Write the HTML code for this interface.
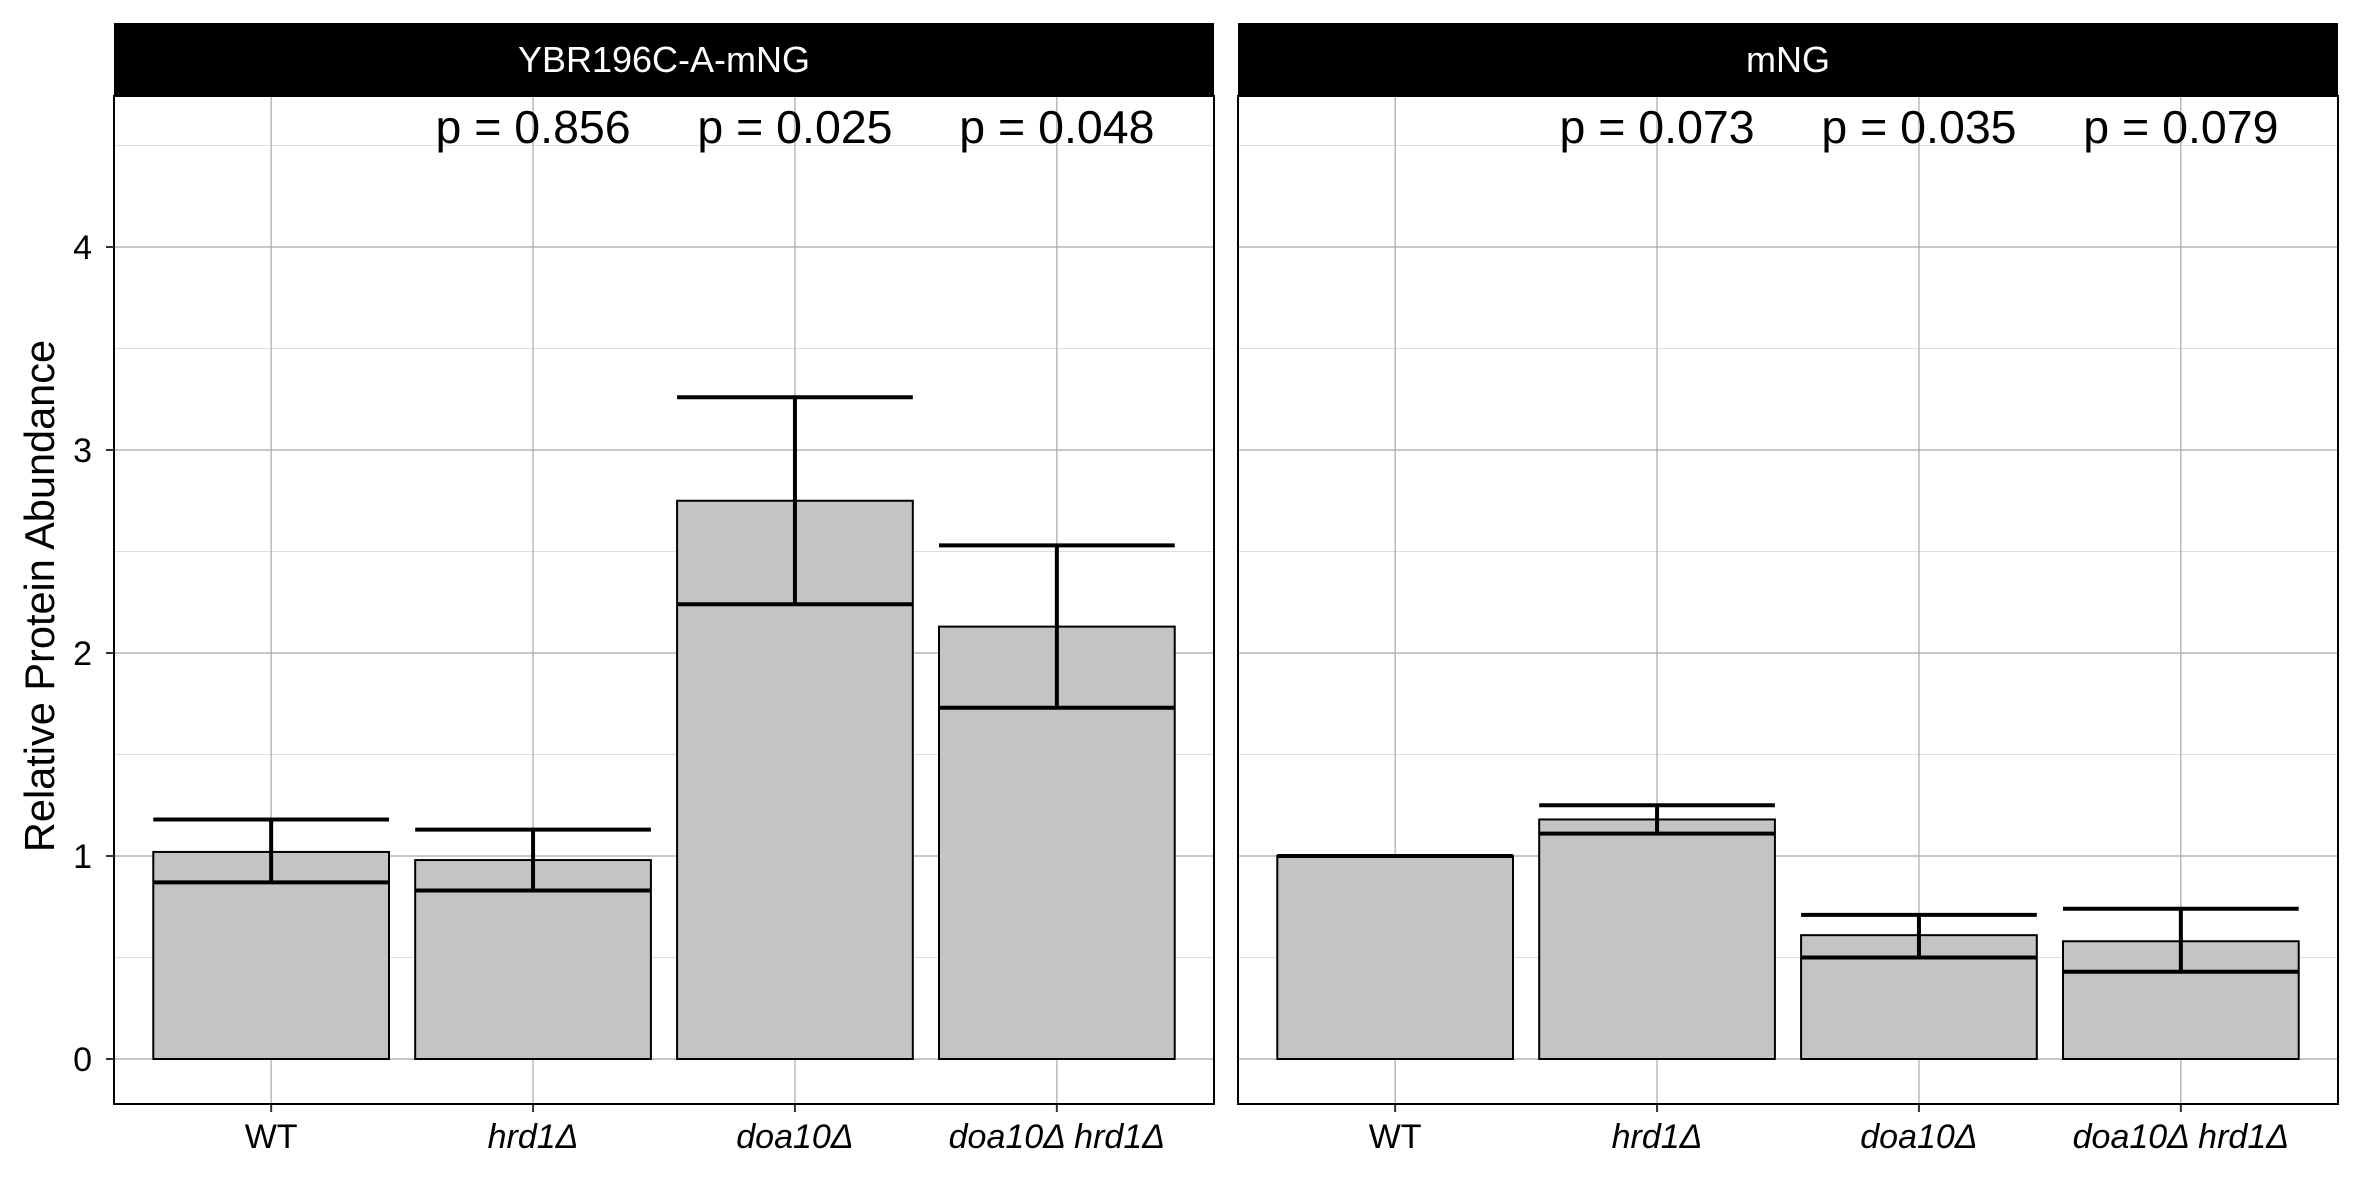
<!DOCTYPE html>
<html><head><meta charset="utf-8"><style>
body{margin:0;background:#fff}
svg{display:block;font-family:"Liberation Sans",sans-serif}
</style></head><body>
<svg id="chart" width="2362" height="1181" viewBox="0 0 2362 1181" xmlns="http://www.w3.org/2000/svg">
<text x="0" y="0" transform="translate(54,596) rotate(-90)" text-anchor="middle" font-size="41.5">Relative Protein Abundance</text>
</svg>
<script>
const categories=["WT","hrd1Δ","doa10Δ","doa10Δ hrd1Δ"];
const panels=["YBR196C-A-mNG","mNG"];
const meansA=[1.02,0.98,2.75,2.13];
const lowA=[0.87,0.83,2.24,1.73];
const highA=[1.18,1.13,3.26,2.53];
const meansB=[1.0,1.18,0.61,0.58];
const lowB=[1.0,1.11,0.50,0.43];
const highB=[1.0,1.25,0.71,0.74];
const pA=["","p = 0.856","p = 0.025","p = 0.048"];
const pB=["","p = 0.073","p = 0.035","p = 0.079"];
const yTicks=[0,1,2,3,4];
const NS="http://www.w3.org/2000/svg";
const svg=document.getElementById('chart');
function mk(t,a,p){const e=document.createElementNS(NS,t);for(const k in a)e.setAttribute(k,a[k]);(p||svg).appendChild(e);return e;}
const y0=1059,unit=203;
function ys(v){return y0-v*unit;}
const plotTop=96,plotBottom=1104,stripTop=23;
const panelX=[114,1238],pw=1100,step=pw/4.2;
const data=[[meansA,lowA,highA,pA],[meansB,lowB,highB,pB]];
panels.forEach((name,pi)=>{
  const x0=panelX[pi];
  const xs=i=>x0+step*(0.6+i);
  const g=mk('g',{});
  
  
  for(let v=-0.5;v<=4.75;v+=0.5){
    if(Number.isInteger(v))continue;
    const yy=ys(v); if(yy<plotTop||yy>plotBottom)continue;
    const l=mk('line',{x1:x0,x2:x0+pw,y1:yy,y2:yy,stroke:'#dedede','stroke-width':1},g);
    
    
  }
  yTicks.forEach(v=>{
    const l=mk('line',{x1:x0,x2:x0+pw,y1:ys(v),y2:ys(v),stroke:'#a8a8a8','stroke-width':1.2},g);
    
    
  });
  categories.forEach((c,i)=>{
    const l=mk('line',{x1:xs(i),x2:xs(i),y1:plotTop,y2:plotBottom,stroke:'#a8a8a8','stroke-width':1.2},g);
    
    
  });
  const [m,lo,hi,pl]=data[pi];
  const bw=step*0.9;
  categories.forEach((c,i)=>{
    const r=mk('rect',{x:xs(i)-bw/2,y:ys(m[i]),width:bw,height:ys(0)-ys(m[i]),fill:'#c4c4c4',stroke:'#000','stroke-width':2},g);
    
    
    const eb=mk('path',{d:`M${xs(i)-bw/2},${ys(hi[i])}H${xs(i)+bw/2}M${xs(i)-bw/2},${ys(lo[i])}H${xs(i)+bw/2}M${xs(i)},${ys(hi[i])}V${ys(lo[i])}`,stroke:'#000','stroke-width':4,fill:'none'},g);
    
    
    if(pl[i]){
      const t=mk('text',{x:xs(i),y:143,'text-anchor':'middle','font-size':46.5},g);
      t.textContent=pl[i];
      
      
    }
    const tk=mk('line',{x1:xs(i),x2:xs(i),y1:plotBottom,y2:plotBottom+8,stroke:'#333','stroke-width':2},g);
    
    
    const xl=mk('text',{x:xs(i),y:1148,'text-anchor':'middle','font-size':34,'font-style':i?'italic':'normal'},g);
    xl.textContent=c;
    
    
  });
  const b=mk('rect',{x:x0,y:plotTop,width:pw,height:plotBottom-plotTop,fill:'none',stroke:'#000','stroke-width':2},g);
  
  
  const s=mk('rect',{x:x0,y:stripTop,width:pw,height:plotTop-stripTop,fill:'#000'},g);
  
  
  const st=mk('text',{x:x0+pw/2,y:72,'text-anchor':'middle','font-size':36,fill:'#fff'},g);
  st.textContent=name;
  
  
});
yTicks.forEach(v=>{
  const t=mk('line',{x1:106,x2:114,y1:ys(v),y2:ys(v),stroke:'#333','stroke-width':2});
  
  
  const l=mk('text',{x:92,y:ys(v)+12,'text-anchor':'end','font-size':34});
  l.textContent=v;
  
  
});
</script>
</body></html>
